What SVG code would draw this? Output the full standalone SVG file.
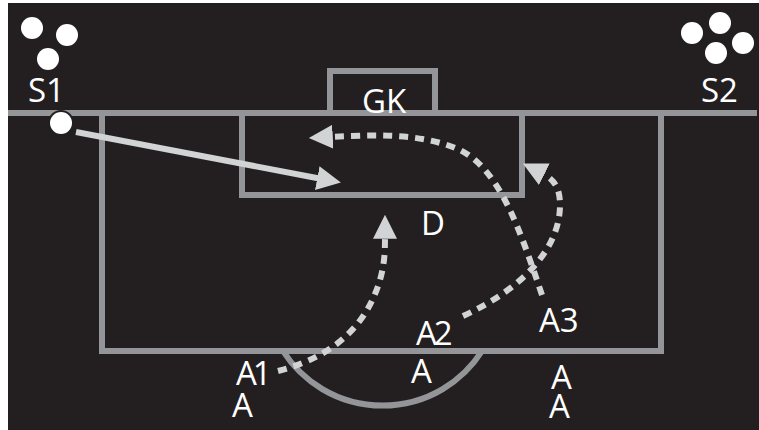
<svg xmlns="http://www.w3.org/2000/svg" width="759" height="430" viewBox="0 0 759 430">
<defs>
<style>
.line{fill:none;stroke:#939598;stroke-width:6}
.ball{fill:#ffffff}
.lbl{font-family:"Open Sans","Liberation Sans",sans-serif;font-size:33px;fill:#ffffff}
.run{fill:none;stroke:#d1d3d4;stroke-width:6;stroke-dasharray:9 7}
.pass{fill:none;stroke:#d1d3d4;stroke-width:6}
</style>
<marker id="ah" viewBox="0 0 10 10" refX="2" refY="5" markerWidth="4" markerHeight="4" markerUnits="strokeWidth" orient="auto">
<path d="M0,0 L10,5 L0,10 Z" fill="#d1d3d4"/>
</marker>
</defs>
<rect x="0" y="0" width="759" height="430" fill="#ffffff"/>
<rect x="8" y="3" width="751" height="427" fill="#231f20"/>
<g id="pitch">
<line class="line" x1="8" y1="113" x2="757" y2="113"/>
<polyline class="line" points="102,113 102,351 661,351 661,113"/>
<polyline class="line" points="242,113 242,195 522,195 522,113"/>
<polyline class="line" points="330,113 330,71 435,71 435,113"/>
<path class="line" d="M283,351 A118,118 0 0 0 482,351"/>
</g>
<g id="S1">
<circle class="ball" cx="32" cy="28" r="11"/>
<circle class="ball" cx="67" cy="35" r="11"/>
<circle class="ball" cx="48" cy="59" r="11"/>
<text class="lbl" x="28" y="102">S1</text>
</g>
<g id="S2">
<circle class="ball" cx="720" cy="23" r="11"/>
<circle class="ball" cx="692" cy="33" r="11"/>
<circle class="ball" cx="743" cy="43" r="11"/>
<circle class="ball" cx="716" cy="53" r="11"/>
<text class="lbl" x="701" y="102">S2</text>
</g>
<g id="ball">
<circle cx="61" cy="123" r="13" fill="#231f20"/>
<circle class="ball" cx="61" cy="123" r="11"/>
</g>
<g id="GK"><text class="lbl" x="362" y="113">GK</text></g>
<g id="D"><text class="lbl" x="421" y="235">D</text></g>
<g id="A1"><text class="lbl" x="236" y="385" letter-spacing="-4">A1</text></g>
<g id="A2"><text class="lbl" x="416" y="345" letter-spacing="-3">A2</text></g>
<g id="A3"><text class="lbl" x="539" y="332">A3</text></g>
<g id="A1b"><text class="lbl" x="232" y="417">A</text></g>
<g id="A2b"><text class="lbl" x="411" y="383">A</text></g>
<g id="A3b"><text class="lbl" x="551" y="389">A</text></g>
<g id="A3c"><text class="lbl" x="549" y="418">A</text></g>
<g id="connectors">
<line class="pass" x1="76" y1="132" x2="322" y2="179" marker-end="url(#ah)"/>
<path class="run" d="M542,295 C520,230 500,170 460,150 C420,132 370,135 328,137" marker-end="url(#ah)"/>
<path class="run" d="M463,316 C520,290 560,250 560,205 C560,185 552,178 540,172" marker-end="url(#ah)"/>
<path class="run" d="M278,371 C340,355 368,320 380,280 C385,262 385,250 385,234" marker-end="url(#ah)"/>
</g>
</svg>
